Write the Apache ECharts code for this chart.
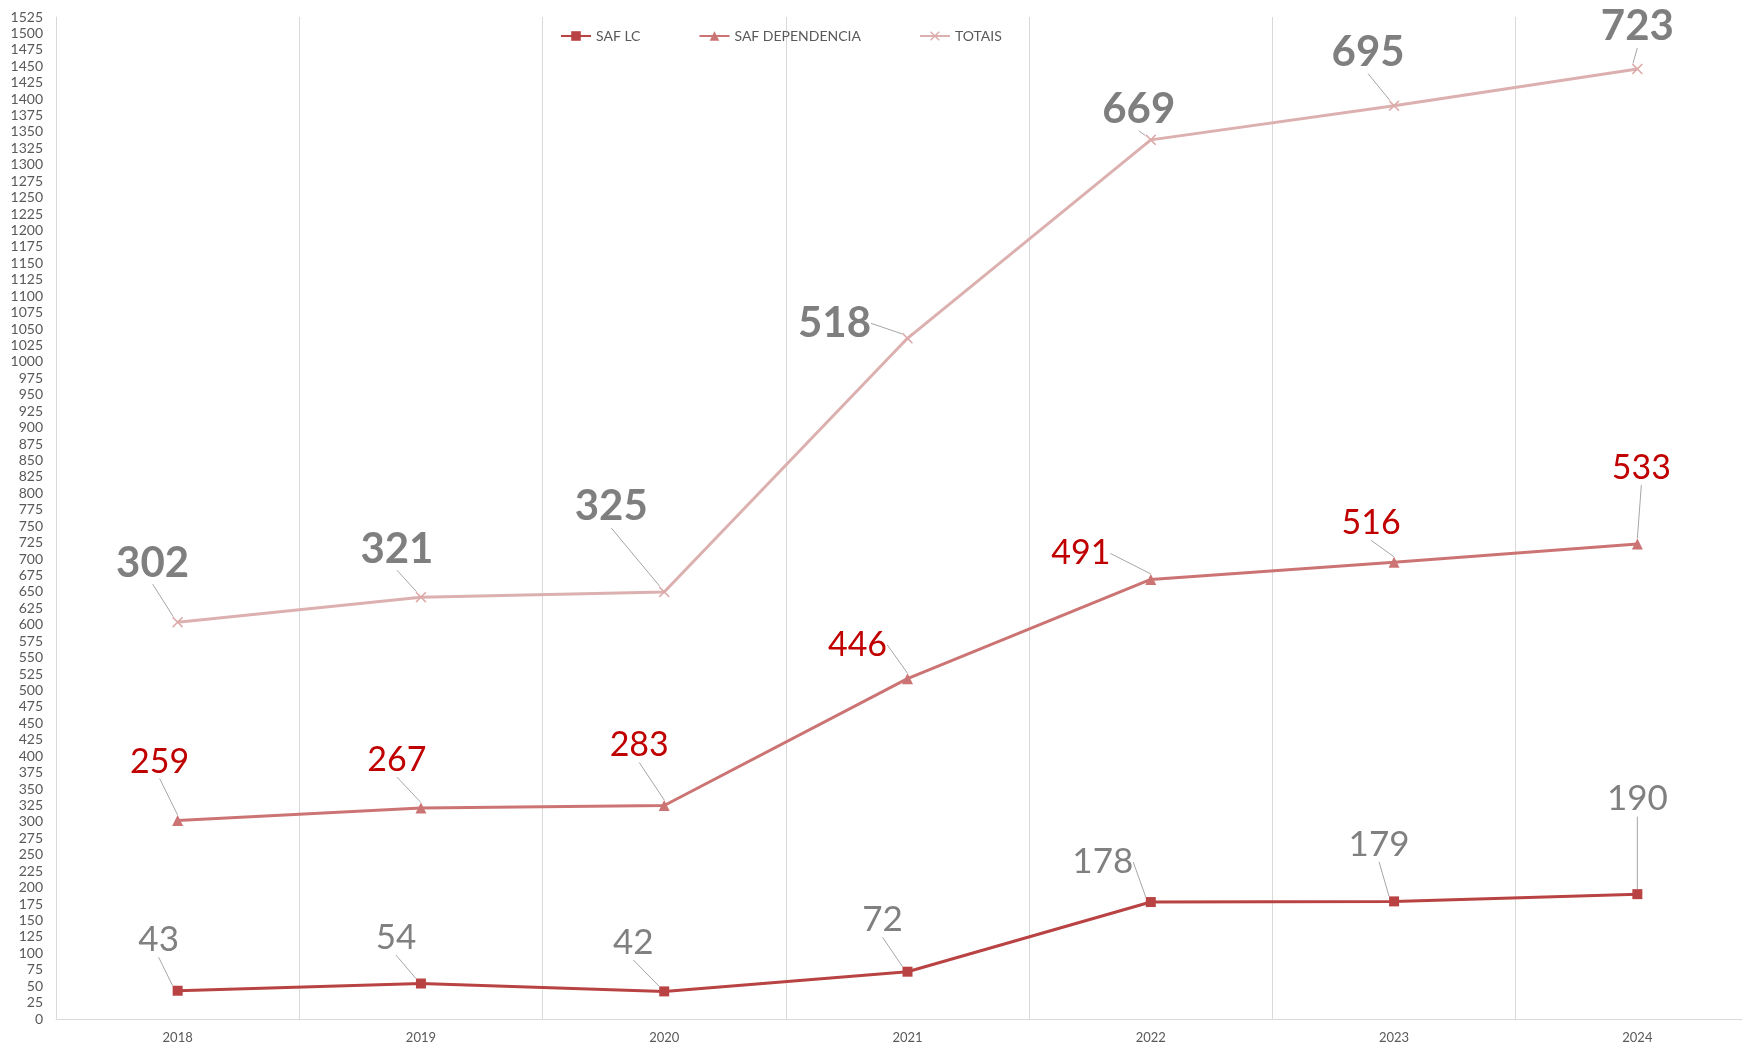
<!DOCTYPE html>
<html>
<head>
<meta charset="utf-8">
<script src="https://cdn.jsdelivr.net/npm/echarts@6/dist/echarts.min.js"></script>
<style>html,body{margin:0;padding:0;background:#fff;overflow:hidden}#c{width:1742px;height:1044px}</style>
</head>
<body>
<div id="c"></div>
<script>
const categories = ['2018','2019','2020','2021','2022','2023','2024'];
const safLC = [43, 54, 42, 72, 178, 179, 190];
const safDependencia = [259, 267, 283, 446, 491, 516, 533];
const totais = [302, 321, 325, 518, 669, 695, 723];
const yMin = 0, yMax = 1525, yStep = 25;

// label callout offsets (label centre relative to point, px)
const lcOffsets = [[-19,-51],[-25,-46],[-31,-49],[-25,-52],[-48,-40],[-15,-57],[0,-95]];
const depOffsets = [[-18,-59],[-24,-48],[-25,-60],[-50,-34],[-70,-26],[-23,-39],[4,-76]];
const totOffsets = [[-25,-59],[-24,-48],[-53,-85],[-73,-15],[-12,-30],[-26,-53],[0,-42]];

const FONT = 'Lato';
const xSym = 'path://M0,1 L1,0 L5,4 L9,0 L10,1 L6,5 L10,9 L9,10 L5,6 L1,10 L0,9 L4,5 Z';

function layoutFor(offs){
  return function(p){ const o = offs[p.dataIndex]; return {dx:o[0], dy:o[1]}; };
}
const leader = {show:true, lineStyle:{color:'#a6a6a6', width:1}};

const chart = echarts.init(document.getElementById('c'));
chart.setOption({
  animation:false,
  textStyle:{fontFamily:FONT},
  legend:{
    left:555, top:24, itemWidth:30, itemHeight:12, itemGap:58,
    textStyle:{fontFamily:FONT, fontSize:14, color:'#595959'},
    data:['SAF LC','SAF DEPENDENCIA','TOTAIS']
  },
  grid:{left:56, right:-17, top:17, bottom:25, containLabel:false, outerBoundsMode:'none'},
  xAxis:{
    type:'category', data:categories, boundaryGap:true,
    axisLine:{lineStyle:{color:'#d9d9d9', width:1}},
    axisTick:{show:false},
    axisLabel:{fontFamily:FONT, fontSize:13, color:'#595959', margin:12},
    splitLine:{show:true, lineStyle:{color:'#d9d9d9', width:1}}
  },
  yAxis:{
    type:'value', min:yMin, max:yMax, interval:yStep,
    axisLine:{show:true, lineStyle:{color:'#d9d9d9', width:1}},
    axisTick:{show:false},
    axisLabel:{fontFamily:FONT, fontSize:14, color:'#595959', margin:13, formatter:function(v){return String(v);}},
    splitLine:{show:false}
  },
  series:[
    {
      name:'SAF LC', type:'line', stack:'s', data:safLC,
      symbol:'rect', symbolSize:10,
      itemStyle:{color:'#b94343'},
      lineStyle:{color:'#b94343', width:3},
      label:{show:true, position:'inside', fontFamily:FONT, fontSize:35, color:'#808080'},
      labelLine:leader,
      labelLayout:layoutFor(lcOffsets),
      z:4
    },
    {
      name:'SAF DEPENDENCIA', type:'line', stack:'s', data:safDependencia,
      symbol:'triangle', symbolSize:11,
      itemStyle:{color:'#cc7474'},
      lineStyle:{color:'#cc7474', width:3},
      label:{show:true, position:'inside', fontFamily:FONT, fontSize:34, color:'#c00000'},
      labelLine:leader,
      labelLayout:layoutFor(depOffsets),
      z:3
    },
    {
      name:'TOTAIS', type:'line', stack:'s', data:totais,
      symbol:xSym, symbolSize:11,
      itemStyle:{color:'#ddaaaa'},
      lineStyle:{color:'#ddb0b0', width:3},
      label:{show:true, position:'inside', fontFamily:FONT, fontSize:42, fontWeight:'bold', color:'#7f7f7f'},
      labelLine:leader,
      labelLayout:layoutFor(totOffsets),
      z:2
    }
  ]
});
</script>
</body>
</html>
